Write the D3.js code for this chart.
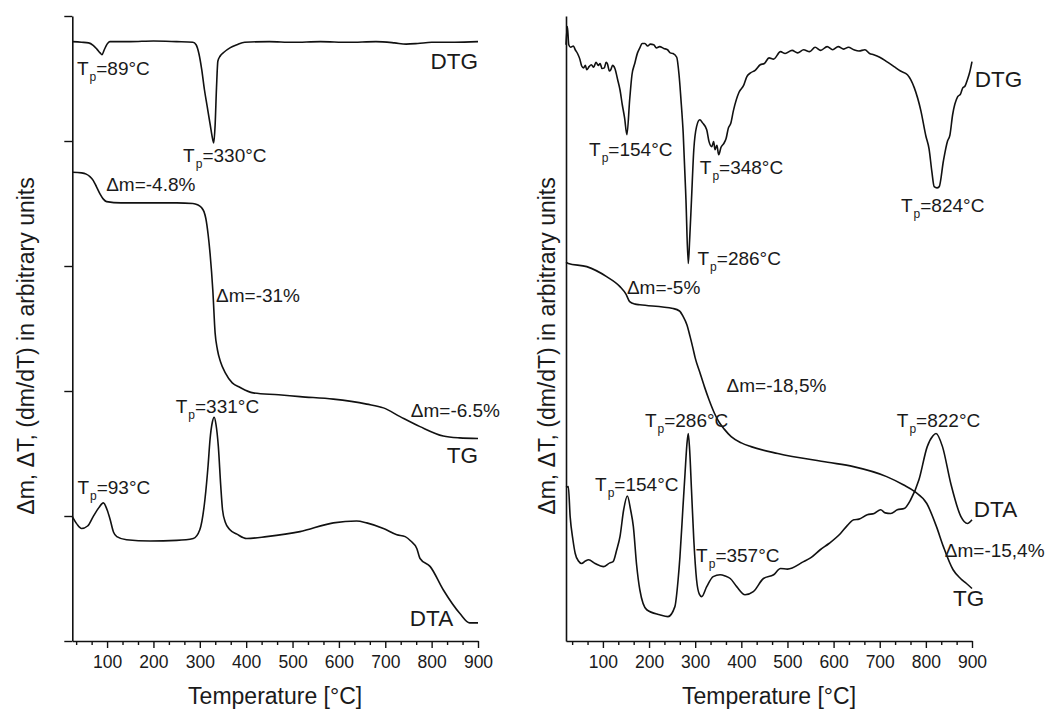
<!DOCTYPE html>
<html>
<head>
<meta charset="utf-8">
<script src="https://cdn.jsdelivr.net/npm/d3@7"></script>
<style>
  html, body { margin: 0; padding: 0; background: #fff; }
  svg { display: block; font-family: "Liberation Sans", Arial, sans-serif; }
</style>
</head>
<body>
<svg id="chart" width="1045" height="711"></svg>
<script>
// ---------- DATA (temperature °C, signal in arbitrary units 0-100) ----------
const majorTicks = [100, 200, 300, 400, 500, 600, 700, 800, 900];
const minorTicks = [33.3, 66.7, 133.3, 166.7, 233.3, 266.7, 333.3, 366.7, 433.3, 466.7,
  533.3, 566.7, 633.3, 666.7, 733.3, 766.7, 833.3, 866.7];
const yTicksLeft = [0, 20, 40, 60, 80, 100];
const xTitle = "Temperature [°C]";
const yTitle = "Δm, ΔT, (dm/dT) in arbitrary units";

// Left panel
const leftDTG = [[25,95.9],[45,95.8],[60,95.7],[70,95.3],[78,94.7],[85,94.1],[89,93.8],[94,94.6],[100,95.5],[106,95.9],
  [150,95.9],[200,96.0],[250,95.9],[285,95.8],[292,95.4],[298,94.0],[304,91.5],[310,88.2],[316,85.5],[322,82.8],
  [328,80.2],[330,79.7],[333,82.5],[336,88.5],[339,92.8],[344,93.6],[352,94.2],[365,94.9],[380,95.4],[397,95.8],
  [450,95.9],[500,95.8],[560,95.9],[620,95.8],[680,95.9],[720,95.7],[745,95.5],[770,95.6],[800,95.8],[850,95.8],[900,95.9]];
const leftTG = [[25,75.0],[45,74.9],[55,74.7],[63,74.3],[70,73.7],[77,72.7],[85,71.5],[92,70.7],[99,70.3],[130,70.1],
  [200,70.1],[250,70.1],[285,70.0],[295,69.8],[303,69.4],[309,68.7],[313,67.6],[318,65.0],[322,62.1],[328,56.2],
  [333,49.3],[338,46.6],[345,44.6],[355,42.9],[370,41.3],[386,40.6],[415,39.7],[470,39.4],[516,39.1],[588,38.7],
  [660,37.9],[696,37.3],[732,35.9],[775,34.3],[825,32.8],[860,32.5],[900,32.4]];
const leftDTA = [[25,19.9],[35,18.7],[45,18.0],[58,18.4],[70,19.9],[82,21.3],[92,22.1],[100,21.0],[106,19.6],[114,17.4],
  [121,16.7],[142,16.2],[193,16.0],[250,16.1],[286,16.4],[300,17.8],[311,22.6],[318,28.2],[322,32.2],[327,35.0],
  [331,35.8],[335,34.6],[340,31.1],[345,25.0],[349,21.0],[355,19.0],[365,17.8],[380,17.1],[401,16.4],[444,16.7],
  [516,17.5],[588,18.9],[638,19.2],[660,18.9],[696,18.0],[725,17.0],[743,16.7],[755,16.0],[768,14.8],[775,13.2],
  [797,11.9],[825,8.2],[861,4.4],[882,2.9],[900,2.9]];

// Right panel
const rightDTG = [[20,95.4],[23,98.3],[26,95.4],[30,95.0],[36,95.2],[40,94.6],[45,94.0],[50,93.1],[54,92.0],[58,91.7],
  [62,92.1],[65,91.4],[70,91.9],[75,92.2],[80,91.8],[85,92.6],[90,92.1],[94,92.4],[98,91.6],[103,91.7],[107,92.6],
  [110,92.3],[114,91.2],[117,91.4],[121,92.1],[126,91.6],[132,89.8],[137,88.2],[142,85.8],[147,83.7],[152,81.0],
  [158,86.6],[163,90.6],[169,92.4],[175,94.1],[180,94.9],[185,95.6],[191,95.6],[197,95.2],[203,95.5],[210,95.4],
  [216,94.9],[223,95.1],[232,94.8],[240,94.6],[246,94.1],[252,94.0],[260,93.4],
  [265,90.6],[270,85.8],[274,81.3],[280,70.6],[285,60.4],[288,64.2],[292,70.6],[297,78.6],[303,82.3],[310,83.4],
  [316,82.9],[325,81.8],[330,79.9],[336,79.1],[340,79.9],[343,78.6],[347,79.3],[351,77.8],[356,79.0],[362,79.6],[367,80.4],[372,82.1],[377,82.8],[383,84.9],
  [395,87.8],[405,88.9],[412,90.3],[420,90.9],[430,91.3],[441,92.2],[450,92.4],[460,93.3],[470,93.1],[485,94.3],[495,94.0],
  [510,94.5],[522,94.1],[535,94.6],[548,94.3],[560,95.0],[572,94.5],[586,95.1],[598,94.6],[610,95.1],[622,94.7],[632,95.0],
  [644,94.6],[655,94.4],[668,94.6],[678,94.0],[687,93.8],[700,93.4],[715,92.7],[731,91.9],
  [745,91.2],[760,90.6],[775,88.5],[789,84.9],[800,80.8],[807,78.7],[813,75.1],[818,72.7],[824,72.5],[829,72.7],[838,76.8],
  [847,80.0],[852,80.9],[858,84.2],[869,87.1],[875,87.5],[880,88.5],[885,88.8],[890,89.8],[895,91.0],[900,92.7]];
const rightTG = [[20,60.6],[25,60.4],[65,59.9],[108,58.3],[137,56.7],[150,55.5],[158,54.3],[170,53.9],[180,53.8],
  [252,53.2],[266,52.8],[274,51.9],[282,50.6],[289,48.7],[295,46.9],[300,45.3],[310,43.0],[320,40.7],[330,38.6],
  [342,36.4],[352,35.0],[363,33.9],[378,32.7],[400,31.7],[421,31.1],[479,30.0],[587,28.6],[643,27.9],[715,26.3],
  [751,25.0],[776,23.9],[802,22.0],[823,18.3],[838,15.1],[859,11.4],[875,10.0],[888,9.2],[900,8.4]];
const rightDTA = [[20,24.6],[25,24.7],[29,19.9],[35,16.2],[40,14.0],[47,12.8],[54,12.4],[62,12.8],[69,13.0],[83,12.4],
  [101,11.9],[115,12.5],[122,12.7],[130,14.6],[137,16.7],[145,21.0],[153,23.2],[160,21.0],[166,18.3],[173,12.2],
  [180,8.2],[195,5.0],[223,4.2],[241,3.9],[256,5.5],[263,9.8],[267,13.5],[273,20.8],[278,26.8],[282,31.4],
  [285,33.2],[288,30.6],[292,24.2],[297,16.2],[303,9.8],[309,7.5],[314,7.1],[325,8.7],[339,10.3],[354,10.6],
  [365,10.4],[376,10.0],[390,8.7],[408,7.4],[426,7.9],[448,10.0],[470,10.6],[485,11.6],[500,11.5],[535,12.7],[550,13.3],
  [571,14.6],[590,15.6],[615,17.2],[630,18.5],[644,19.4],[655,19.5],[673,20.2],[688,20.4],[702,21.0],[712,20.5],
  [724,20.4],[738,21.0],[753,21.2],[767,22.6],[785,25.8],[803,31.1],[815,32.8],[822,33.2],
  [836,31.1],[854,25.2],[876,19.9],[890,18.8],[900,19.4]];

// Annotations: [text, subscript, text after subscript, T, value, anchor, size class]
const leftLabels = [
  ["T","p","=89°C",35,90.6,"start","a"],
  ["T","p","=330°C",264,76.6,"start","a"],
  ["Δm=-4.8%","","",98,72.0,"start","a"],
  ["Δm=-31%","","",335,54.2,"start","a"],
  ["DTG","","",900,91.5,"end","b"],
  ["T","p","=331°C",248,36.5,"start","a"],
  ["Δm=-6.5%","","",755,35.8,"start","a"],
  ["TG","","",900,28.5,"end","b"],
  ["T","p","=93°C",36,23.5,"start","a"],
  ["DTA","","",753,2.4,"start","b"]
];
const rightLabels = [
  ["T","p","=154°C",70,77.6,"start","a"],
  ["T","p","=348°C",310,74.8,"start","a"],
  ["T","p","=824°C",746,68.7,"start","a"],
  ["T","p","=286°C",305,60.2,"start","a"],
  ["DTG","","",906,88.6,"start","b"],
  ["Δm=-5%","","",152,55.6,"start","a"],
  ["Δm=-18,5%","","",368,39.8,"start","a"],
  ["T","p","=286°C",191,34.3,"start","a"],
  ["T","p","=822°C",737,34.3,"start","a"],
  ["T","p","=154°C",83,24.0,"start","a"],
  ["DTA","","",904,19.9,"start","b"],
  ["Δm=-15,4%","","",841,13.5,"start","a"],
  ["T","p","=357°C",302,12.7,"start","a"],
  ["TG","","",859,5.6,"start","b"]
];

// ---------- DRAWING ----------
const svg = d3.select("#chart");
const yTop = 16, yBottom = 641;
const textColor = "#1a1a1a";

function drawPanel(cfg) {
  const x = d3.scaleLinear().domain(cfg.xDomain).range(cfg.xRange);
  const y = d3.scaleLinear().domain([0, 100]).range([yBottom, yTop]);
  const g = svg.append("g");

  const line = d3.line().x(d => x(d[0])).y(d => y(d[1])).curve(d3.curveMonotoneX);
  cfg.curves.forEach(c => {
    g.append("path").datum(c).attr("d", line)
      .attr("fill", "none").attr("stroke", "#111").attr("stroke-width", 1.6)
      .attr("stroke-linejoin", "round");
  });

  const minorAx = d3.axisBottom(x).tickValues(minorTicks.filter(v => v > cfg.xDomain[0]))
    .tickSize(4).tickSizeOuter(0).tickFormat("");
  g.append("g").attr("transform", `translate(0,${yBottom})`).call(minorAx)
    .call(s => s.select(".domain").remove())
    .call(s => s.selectAll("line").attr("stroke", "#111").attr("stroke-width", 1.4));
  const majorAx = d3.axisBottom(x).tickValues(majorTicks).tickSize(7).tickSizeOuter(0).tickPadding(8);
  const gx = g.append("g").attr("transform", `translate(0,${yBottom})`).call(majorAx);
  gx.select(".domain").attr("stroke", "#111").attr("stroke-width", 1.6);
  gx.selectAll("line").attr("stroke", "#111").attr("stroke-width", 1.4);
  gx.selectAll("text").attr("font-size", 17.5).attr("fill", textColor)
    .attr("font-family", "Liberation Sans, Arial, sans-serif");

  const yAx = d3.axisLeft(y).tickValues(cfg.showYTicks ? yTicksLeft : []).tickSize(8).tickSizeOuter(0).tickFormat("");
  const gy = g.append("g").attr("transform", `translate(${cfg.xRange[0]},0)`).call(yAx);
  gy.select(".domain").attr("stroke", "#111").attr("stroke-width", 1.6);
  gy.selectAll("line").attr("stroke", "#111").attr("stroke-width", 1.4);

  g.append("text").attr("x", (cfg.xRange[0] + cfg.xRange[1]) / 2).attr("y", 704)
    .attr("text-anchor", "middle").attr("font-size", 23).attr("fill", textColor).text(xTitle);
  g.append("text").attr("transform", `translate(${cfg.yTitleX},346) rotate(-90)`)
    .attr("text-anchor", "middle").attr("font-size", 23).attr("fill", textColor).text(yTitle);

  cfg.labels.forEach(l => {
    const t = g.append("text").attr("x", x(l[3])).attr("y", y(l[4]))
      .attr("text-anchor", l[5]).attr("fill", textColor)
      .attr("font-size", l[6] === "b" ? 22.5 : 19);
    t.append("tspan").attr("fill", textColor).text(l[0]);
    if (l[1]) {
      t.append("tspan").attr("dy", 6).attr("dx", 1).attr("font-size", 12).attr("fill", textColor).text(l[1]);
      t.append("tspan").attr("dy", -6).attr("fill", textColor).text(l[2]);
    }
  });
}

drawPanel({ xDomain: [25, 900], xRange: [72.3, 478], showYTicks: true, yTitleX: 34,
  curves: [leftDTG, leftTG, leftDTA], labels: leftLabels });
drawPanel({ xDomain: [20, 900], xRange: [566, 972], showYTicks: false, yTitleX: 555,
  curves: [rightDTG, rightTG, rightDTA], labels: rightLabels });
</script>
</body>
</html>
